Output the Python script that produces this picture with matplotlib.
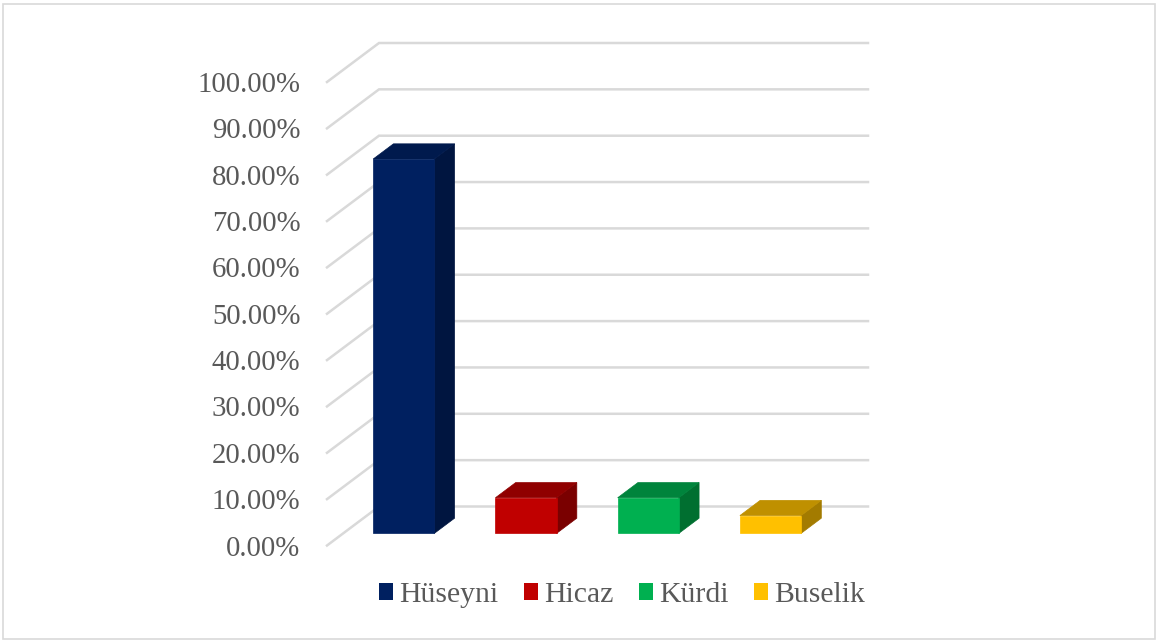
import matplotlib
matplotlib.use("Agg")
import matplotlib.pyplot as plt
from matplotlib.patches import Polygon, Rectangle

categories = ["Hüseyni", "Hicaz", "Kürdi", "Buselik"]
values = [80.77, 7.69, 7.69, 3.85]
yticks = list(range(0, 101, 10))
front_colors = ["#002060", "#C00000", "#00B050", "#FFC000"]
top_colors = ["#001A4D", "#900000", "#00843C", "#BF9000"]
side_colors = ["#001540", "#7A0000", "#006F30", "#A37B00"]
grid_color = "#D9D9D9"
text_color = "#595959"

W, H = 1157, 642
plt.rcParams["font.family"] = ["Liberation Serif", "DejaVu Serif"]
fig = plt.figure(figsize=(W / 100, H / 100), dpi=100)
fig.patches.append(Rectangle((2.5 / W, 3.5 / H), (W - 5) / W, (H - 7) / H,
                             transform=fig.transFigure, fc="white", ec="#D9D9D9", lw=1.2, zorder=-1))

# front plane of the pseudo-3D box, in pixels
L, R, Y0, Y100 = 327, 816, 545.5, 82
ax = fig.add_axes([L / W, (H - Y0) / H, (R - L) / W, (Y0 - Y100) / H])
ax.set_xlim(-0.5, 3.5)
ax.set_ylim(0, 100)
ax.patch.set_visible(False)
for s in ax.spines.values():
    s.set_visible(False)
ax.set_xticks([])
ax.set_yticks(yticks)
ax.set_yticklabels([f"{v:.2f}%" for v in yticks], fontsize=20.7, color=text_color)
ax.tick_params(axis="y", length=0, pad=19)

# depth vector of the floor, in data units
DX = 52 / ((R - L) / 4)
DY = 39 / ((Y0 - Y100) / 100)
GRID_LW = 1.8
for v in yticks:
    ax.plot([-0.5, -0.5 + DX, 3.5 + DX], [v, v + DY, v + DY],
            color=grid_color, lw=GRID_LW, clip_on=False, zorder=1, solid_joinstyle="miter")

BAR_W = 0.5
D0, D1 = 0.30, 0.69   # bar front / back position along the depth
for i, v in enumerate(values):
    x0 = i - BAR_W / 2 + D0 * DX
    y0 = 0.31 * DY
    dx = (D1 - D0) * DX
    dy = (D1 - D0) * DY
    x1 = x0 + BAR_W
    ax.add_patch(Polygon([(x1, y0), (x1 + dx, y0 + dy), (x1 + dx, y0 + dy + v), (x1, y0 + v)],
                         closed=True, fc=side_colors[i], ec=side_colors[i], lw=0.5, zorder=3, clip_on=False))
    ax.add_patch(Polygon([(x0, y0 + v), (x0 + dx, y0 + v + dy), (x1 + dx, y0 + v + dy), (x1, y0 + v)],
                         closed=True, fc=top_colors[i], ec=top_colors[i], lw=0.5, zorder=3, clip_on=False))
    ax.bar(x0, v, BAR_W, bottom=y0, align="edge", color=front_colors[i],
           edgecolor=front_colors[i], lw=0.5, zorder=4, clip_on=False)

handles = [Rectangle((0, 0), 1, 1, fc=c, ec="none") for c in front_colors]
fig.legend(handles, categories, ncols=4, frameon=False, fontsize=21.4, labelcolor=text_color,
           loc="center left", bbox_to_anchor=(379 / W, (H - 595) / H),
           borderpad=0, borderaxespad=0, handlelength=0.47, handleheight=0.5,
           handletextpad=0.2, columnspacing=0.87)

fig.savefig("out.png", dpi=100, facecolor="white")
